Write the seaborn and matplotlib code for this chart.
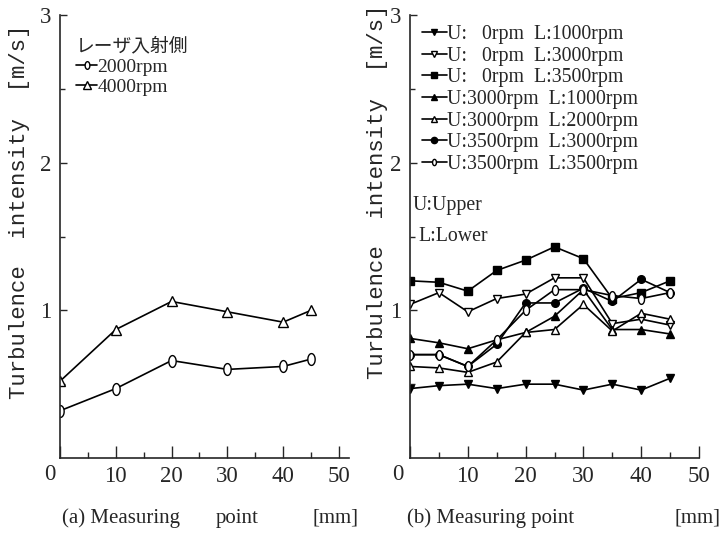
import numpy as np
import matplotlib
matplotlib.use('Agg')
import matplotlib.pyplot as plt
from matplotlib.path import Path
import seaborn as sns

# --- values ---
# (a) laser incident side
pos_a = [0, 10, 20, 30, 40, 45]
rpm2000 = [0.32, 0.47, 0.66, 0.60, 0.62, 0.67]
rpm4000 = [0.52, 0.87, 1.06, 0.99, 0.92, 1.00]
labels_a = ['2000rpm', '4000rpm']

# (b) upper / lower rotation speeds
pos_b = [0, 5, 10, 15, 20, 25, 30, 35, 40, 45]
u0_l1000 = [0.47, 0.49, 0.50, 0.47, 0.50, 0.50, 0.46, 0.50, 0.46, 0.54]
u0_l3000 = [1.04, 1.12, 0.99, 1.08, 1.11, 1.22, 1.22, 0.91, 0.94, 0.90]
u0_l3500 = [1.20, 1.19, 1.13, 1.27, 1.34, 1.43, 1.35, 1.08, 1.12, 1.20]
u3000_l1000 = [0.81, 0.78, 0.74, 0.80, 0.85, 0.96, 1.14, 0.87, 0.87, 0.84]
u3000_l2000 = [0.62, 0.61, 0.58, 0.65, 0.85, 0.87, 1.04, 0.86, 0.98, 0.94]
u3500_l3000 = [0.70, 0.70, 0.62, 0.77, 1.05, 1.05, 1.15, 1.06, 1.21, 1.12]
u3500_l3500 = [0.70, 0.70, 0.62, 0.80, 1.00, 1.14, 1.14, 1.10, 1.08, 1.12]
labels_b = ['U:   0rpm  L:1000rpm', 'U:   0rpm  L:3000rpm', 'U:   0rpm  L:3500rpm',
            'U:3000rpm  L:1000rpm', 'U:3000rpm  L:2000rpm', 'U:3500rpm  L:3000rpm',
            'U:3500rpm  L:3500rpm']

sns.set_style('ticks')
plt.rcParams['font.family'] = ['Liberation Serif', 'Noto Sans CJK JP']
plt.rcParams['xtick.direction'] = 'in'
plt.rcParams['ytick.direction'] = 'in'
plt.rcParams['axes.linewidth'] = 1.2

# tall open "circle" used in the original
t = np.linspace(0, 2 * np.pi, 64)
oval = Path(np.column_stack([0.62 * np.cos(t), np.sin(t)]))

fig = plt.figure(figsize=(7.2, 5.33), dpi=100)
ax1 = fig.add_axes([60 / 720, 75 / 533, 289 / 720, 443 / 533])
ax2 = fig.add_axes([410 / 720, 75 / 533, 289 / 720, 443 / 533])


def style_axes(ax, xmax, zero_shift):
    ax.set_xlim(0, xmax)
    ax.set_ylim(0, 3)
    sns.despine(ax=ax)
    ax.set_xticks(range(0, 51, 10))
    ax.set_xticklabels([''] + [str(v) for v in range(10, 51, 10)])
    ax.set_xticks(range(5, 50, 10), minor=True)
    ax.set_yticks([1, 2, 3])
    ax.set_yticklabels(['1', '2', '3'])
    ax.set_yticks([0.5, 1.5, 2.5], minor=True)
    ax.tick_params(axis='x', which='major', length=8.6, width=1, pad=6, labelsize=16.5)
    ax.tick_params(axis='x', which='minor', length=4.3, width=1)
    ax.tick_params(axis='y', which='major', length=5, width=1, pad=6, labelsize=16.5)
    ax.tick_params(axis='y', which='minor', length=3.5, width=1)
    ax.set_xlabel('')
    ax.set_ylabel('')
    # the "0" label sits left of the axis in the original
    ax.annotate('0', xy=(0, 0), xycoords=('data', 'axes fraction'),
                xytext=(zero_shift, -4.3), textcoords='offset points',
                ha='center', va='top', fontsize=16.5)


# --- (a) ---
for vals, lab, mk in zip([rpm2000, rpm4000], labels_a, [oval, '^']):
    sns.lineplot(x=pos_a, y=vals, ax=ax1, color='black', lw=1.2, label=lab,
                 marker=mk, markersize=8.5 if mk is oval else 7.5,
                 markerfacecolor='white', markeredgecolor='black', markeredgewidth=1)
style_axes(ax1, 51.8, -7)
leg1 = ax1.legend(loc='upper left', bbox_to_anchor=(0.055, 0.955), frameon=False,
                  title='レーザ入射側', alignment='left',
                  title_fontproperties={'family': 'Noto Sans CJK JP', 'size': 13.5},
                  fontsize=14, handlelength=1.1, handletextpad=0.0,
                  labelspacing=0.13, borderpad=0, borderaxespad=0)
for h in leg1.legend_handles:
    h.set_markersize(5.5)

# --- (b) ---
series_b = [u0_l1000, u0_l3000, u0_l3500, u3000_l1000, u3000_l2000, u3500_l3000, u3500_l3500]
markers_b = ['v', 'v', 's', '^', '^', 'o', oval]
faces_b = ['black', 'white', 'black', 'black', 'white', 'black', 'white']
sizes_b = [5.5, 6, 5.5, 5.5, 6, 5.5, 7]
for vals, lab, mk, fc, ms in zip(series_b, labels_b, markers_b, faces_b, sizes_b):
    sns.lineplot(x=pos_b, y=vals, ax=ax2, color='black', lw=1.2, label=lab,
                 marker=mk, markersize=ms, markerfacecolor=fc,
                 markeredgecolor='black', markeredgewidth=1)
style_axes(ax2, 50, -8.5)
leg2 = ax2.legend(loc='upper left', bbox_to_anchor=(0.04, 0.977), frameon=False,
                  fontsize=14.3, handlelength=1.3, handletextpad=0.0,
                  labelspacing=0.13, borderpad=0, borderaxespad=0)
for h in leg2.legend_handles:
    h.set_markersize(4.5)

ax2.text(0.01, 0.571, 'U:Upper', transform=ax2.transAxes, fontsize=14.3, va='center')
ax2.text(0.028, 0.499, 'L:Lower', transform=ax2.transAxes, fontsize=14.3, va='center')

# y labels in a wide monospaced face
ylab = 'Turbulence  intensity  [m/s]'
fig.text(20 / 720, 1 - 212 / 533, ylab, rotation=90, ha='center', va='center',
         family='Liberation Mono', fontsize=16)
fig.text(378 / 720, 1 - 192 / 533, ylab, rotation=90, ha='center', va='center',
         family='Liberation Mono', fontsize=16)

# x labels
ly = 1 - 518 / 533
fig.text(62 / 720, ly, '(a) Measuring', ha='left', va='center', fontsize=15)
fig.text(216 / 720, ly, 'point', ha='left', va='center', fontsize=15)
fig.text(313 / 720, ly, '[mm]', ha='left', va='center', fontsize=15)
fig.text(407 / 720, ly, '(b) Measuring point', ha='left', va='center', fontsize=15)
fig.text(674 / 720, ly, '[mm]', ha='left', va='center', fontsize=15)

fig.savefig('out.png', dpi=100)
